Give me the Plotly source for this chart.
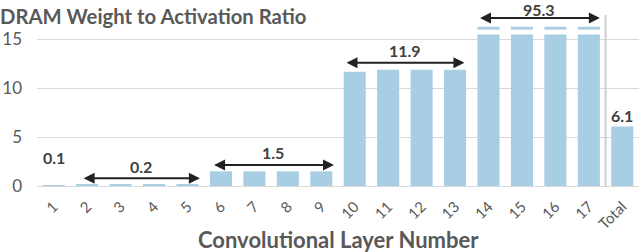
import plotly.graph_objects as go

categories = [str(i) for i in range(1, 18)] + ["Total"]
# displayed bar heights (layers 14-17 are broken bars; true average 95.3)
values = [0.1, 0.2, 0.2, 0.2, 0.2, 1.5, 1.5, 1.5, 1.5,
          11.7, 11.9, 11.9, 11.9, 16.3, 16.3, 16.3, 16.3, 6.1]
break_layers = ["14", "15", "16", "17"]
break_base = 15.5
break_size = 0.5

# group labels: text, arrow (start idx, end idx, y), label offset (px)
group_labels = ["0.2", "1.5", "11.9", "95.3"]
group_arrow = [(0.85, 4.37, 0.8), (4.75, 8.38, 2.15), (8.71, 12.28, 12.6), (12.7, 16.33, 17.2)]
group_shift = [12, 12, 12, 8]
single_labels = [("0.1", 0, 1.8), ("6.1", 17, 6.1)]

BAR = "#A8CEE3"
GRAY = "#595959"
TXT = "#404040"
FONT = "Lato"

xs = list(range(len(categories)))
fig = go.Figure()
fig.add_trace(go.Bar(x=xs, y=values, marker=dict(color=BAR, line=dict(width=0)),
                     width=0.66, hoverinfo="skip"))
bx = [categories.index(c) for c in break_layers]
fig.add_trace(go.Bar(x=bx, y=[break_size] * len(bx), base=[break_base] * len(bx),
                     marker=dict(color="white", line=dict(width=0)), width=0.7,
                     hoverinfo="skip"))

ann = []
for t, (a0, a1, ay), sh in zip(group_labels, group_arrow, group_shift):
    ann.append(dict(x=(a0 + a1) / 2, y=ay, xref="x", yref="y", text=f"<b>{t}</b>",
                    showarrow=False, yanchor="middle", yshift=sh, borderpad=0,
                    font=dict(family=FONT, size=16, color=TXT)))
    ann.append(dict(x=a1, y=ay, ax=a0, ay=ay, xref="x", yref="y", axref="x", ayref="y",
                    text="", showarrow=True, arrowside="end+start", arrowhead=2,
                    startarrowhead=2, arrowsize=1.1, startarrowsize=1.1, arrowwidth=2,
                    arrowcolor="#222222"))
for t, xi, ty in single_labels:
    ann.append(dict(x=xi, y=ty, xref="x", yref="y", text=f"<b>{t}</b>", showarrow=False,
                    yanchor="middle", yshift=11,
                    font=dict(family=FONT, size=16, color=TXT)))
ann.append(dict(x=0.5, y=-(239 - 186) / 172, xref="paper", yref="paper",
                text="<b>Convolutional Layer Number</b>", showarrow=False,
                yanchor="middle", font=dict(family=FONT, size=22, color=GRAY)))

fig.update_layout(
    width=640, height=252,
    margin=dict(l=37, r=1, t=14, b=66, autoexpand=False),
    paper_bgcolor="white", plot_bgcolor="white",
    barmode="overlay", showlegend=False,
    font=dict(family=FONT, color=GRAY),
    title=dict(text="<b>DRAM Weight to Activation Ratio</b>", x=0, xanchor="left",
               xref="container", y=1 - 17 / 252, yanchor="middle", yref="container",
               font=dict(family=FONT, size=20.3, color=GRAY)),
    annotations=ann,
    shapes=[dict(type="line", xref="x", yref="y", x0=16.5, x1=16.5, y0=0, y1=17.5,
                 line=dict(color="#CFCFCF", width=2))],
)
fig.update_xaxes(range=[-0.5, 17.5], tickmode="array", tickvals=xs, ticktext=categories,
                 tickangle=-45, tickfont=dict(family=FONT, size=15, color=GRAY),
                 ticklabelstandoff=8,
                 showgrid=False, showline=False, zeroline=False, ticks="", automargin=False)
fig.update_yaxes(range=[0, 17.6], tickvals=[0, 5, 10, 15], showgrid=True,
                 gridcolor="#D9D9D9", gridwidth=1, zeroline=True, zerolinecolor="#D9D9D9",
                 zerolinewidth=1, tickfont=dict(family=FONT, size=17, color=GRAY),
                 ticklabelstandoff=14, showline=False, ticks="", automargin=False)

fig.write_html("out.html", config={"displayModeBar": False, "staticPlot": True},
               post_script="document.body.style.margin='0';document.body.style.overflow='hidden';")
